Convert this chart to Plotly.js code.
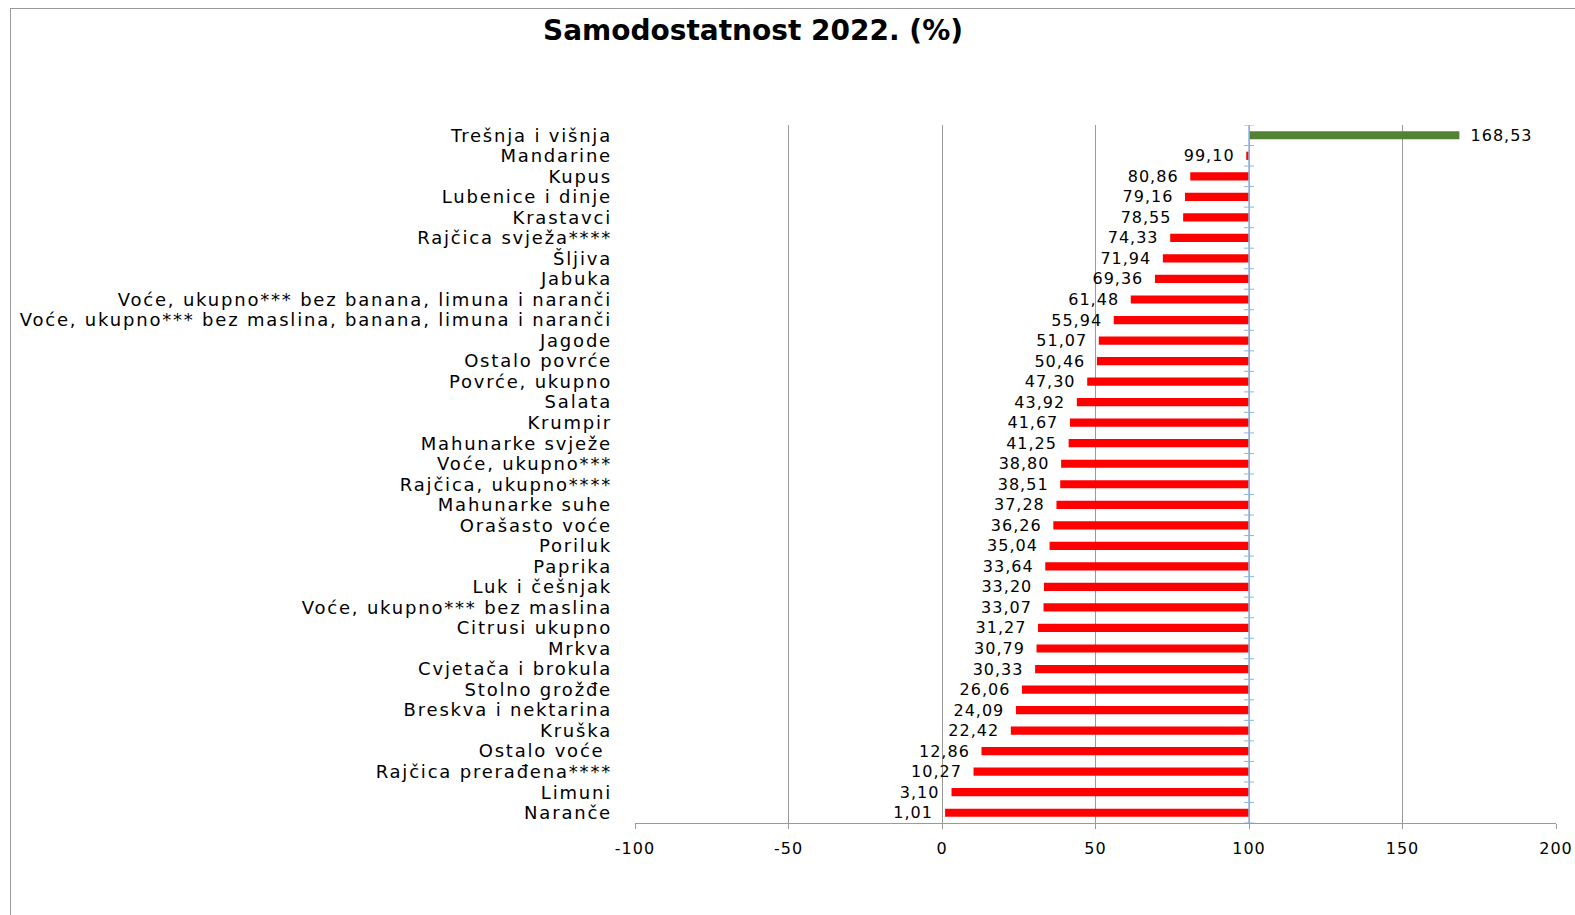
<!DOCTYPE html>
<html>
<head>
<meta charset="utf-8">
<script src="https://cdn.plot.ly/plotly-3.0.1.min.js"></script>
<style>
html,body{margin:0;padding:0;background:#fff;}
#chart{width:1575px;height:915px;position:relative;}
#frame{position:absolute;left:10px;top:8px;width:1565px;height:907px;border-left:1px solid #9a9a9a;border-top:1px solid #9a9a9a;pointer-events:none;}
#chart .ytick text{letter-spacing:1.8px;}
#chart .xtick text{letter-spacing:1px;}
#chart text.bartext{letter-spacing:1px;}
</style>
</head>
<body>
<div id="chart"></div>
<div id="frame"></div>
<script>
const categories = [
  "Trešnja i višnja", "Mandarine", "Kupus", "Lubenice i dinje", "Krastavci",
  "Rajčica svježa****", "Šljiva", "Jabuka",
  "Voće, ukupno*** bez banana, limuna i naranči",
  "Voće, ukupno*** bez maslina, banana, limuna i naranči",
  "Jagode", "Ostalo povrće", "Povrće, ukupno", "Salata", "Krumpir",
  "Mahunarke svježe", "Voće, ukupno***", "Rajčica, ukupno****", "Mahunarke suhe",
  "Orašasto voće", "Poriluk", "Paprika", "Luk i češnjak", "Voće, ukupno*** bez maslina",
  "Citrusi ukupno", "Mrkva", "Cvjetača i brokula", "Stolno grožđe", "Breskva i nektarina",
  "Kruška", "Ostalo voće ", "Rajčica prerađena****", "Limuni", "Naranče"
];
const values = [
  168.53, 99.10, 80.86, 79.16, 78.55,
  74.33, 71.94, 69.36,
  61.48,
  55.94,
  51.07, 50.46, 47.30, 43.92, 41.67,
  41.25, 38.80, 38.51, 37.28,
  36.26, 35.04, 33.64, 33.20, 33.07,
  31.27, 30.79, 30.33, 26.06, 24.09,
  22.42, 12.86, 10.27, 3.10, 1.01
];
const baseline = 100;
const tickVals = [-100, -50, 0, 50, 100, 150, 200];
const aboveColor = "#548235";
const belowColor = "#FF0000";

const font = "DejaVu Sans, Verdana, sans-serif";
const gap = "\u00a0\u00a0";

const trace = {
  type: "bar",
  orientation: "h",
  y: categories,
  x: values.map(v => v - baseline),
  base: values.map(() => baseline),
  marker: {color: values.map(v => v >= baseline ? aboveColor : belowColor)},
  text: values.map(v => {
    const s = v.toFixed(2).replace(".", ",");
    return v >= baseline ? gap + s : s + gap;
  }),
  textposition: "outside",
  constraintext: "none",
  cliponaxis: false,
  textfont: {family: font, size: 16, color: "#000"},
  hoverinfo: "skip"
};

const shapes = [{
  type: "line", xref: "x", yref: "paper",
  x0: baseline, x1: baseline, y0: 0, y1: 1,
  line: {color: "#8DB4E2", width: 1.5}
}];
for (let i = 0; i <= categories.length; i++) {
  shapes.push({
    type: "line", xref: "x", yref: "y",
    xsizemode: "pixel", xanchor: baseline, x0: -5, x1: 5,
    y0: i - 0.5, y1: i - 0.5,
    line: {color: "#8DB4E2", width: 1}
  });
}

const layout = {
  width: 1575, height: 915,
  margin: {l: 635, r: 19, t: 125, b: 92},
  paper_bgcolor: "#fff", plot_bgcolor: "#fff",
  showlegend: false,
  bargap: 0.6,
  title: {
    text: "<b>Samodostatnost 2022. (%)</b>",
    font: {family: font, size: 28, color: "#000"},
    x: 753/1575, xanchor: "center", xref: "container",
    y: 1 - 30/915, yanchor: "middle", yref: "container"
  },
  xaxis: {
    range: [-100, 200],
    tickvals: tickVals,
    ticktext: tickVals.map(String),
    showgrid: true, gridcolor: "#9a9a9a", gridwidth: 1,
    zeroline: false,
    showline: true, linecolor: "#9a9a9a", linewidth: 1,
    ticks: "outside", ticklen: 5, tickcolor: "#9a9a9a",
    ticklabelstandoff: 6,
    tickfont: {family: font, size: 16, color: "#000"},
    fixedrange: true
  },
  yaxis: {
    type: "category",
    autorange: false,
    range: [categories.length - 0.5, -0.5],
    tickmode: "array",
    tickvals: categories,
    ticktext: categories,
    showgrid: false, zeroline: false, showline: false,
    ticks: "",
    ticklabelstandoff: 22,
    tickfont: {family: font, size: 18, color: "#000"},
    fixedrange: true
  },
  shapes: shapes
};

Plotly.newPlot("chart", [trace], layout, {displayModeBar: false, staticPlot: true});
</script>
</body>
</html>
